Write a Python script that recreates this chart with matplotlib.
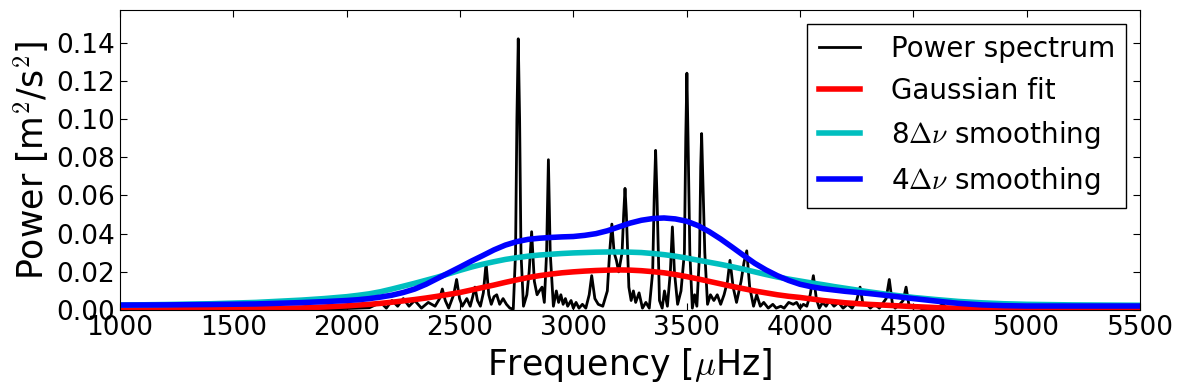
import matplotlib
matplotlib.use("Agg")
import matplotlib.pyplot as plt

# power spectrum
spec_freq = [1000, 1200, 1400, 1505, 1520, 1535, 1700, 1900, 2000, 2100,
             2150, 2175, 2200, 2225, 2250, 2275, 2300, 2330, 2360, 2390,
             2410, 2422, 2435, 2450, 2472, 2485, 2498, 2510, 2530, 2545,
             2556, 2566, 2577, 2590, 2603, 2615, 2627, 2638, 2650, 2662,
             2675, 2690, 2705, 2720, 2735, 2745, 2751, 2757, 2763, 2769,
             2780, 2795, 2805, 2816, 2828, 2840, 2850, 2862, 2872, 2882,
             2890, 2898, 2912, 2925, 2935, 2945, 2955, 2965, 2975, 2990,
             3000, 3012, 3025, 3040, 3055, 3070, 3081, 3095, 3110, 3130,
             3150, 3160, 3170, 3180, 3190, 3200, 3215, 3222, 3228, 3234,
             3245, 3255, 3265, 3275, 3290, 3305, 3320, 3335, 3350, 3357,
             3363, 3369, 3380, 3392, 3402, 3415, 3428, 3437, 3446, 3460,
             3475, 3490, 3496, 3501, 3506, 3514, 3525, 3535, 3545, 3557,
             3562, 3566, 3570, 3580, 3592, 3605, 3620, 3635, 3650, 3665,
             3680, 3691, 3705, 3720, 3740, 3753, 3765, 3778, 3795, 3809,
             3825, 3840, 3860, 3880, 3895, 3915, 3930, 3950, 3970, 3985,
             4000, 4015, 4030, 4045, 4059, 4072, 4085, 4100, 4115, 4130,
             4150, 4170, 4190, 4210, 4230, 4250, 4265, 4278, 4295, 4310,
             4330, 4350, 4380, 4394, 4408, 4420, 4440, 4455, 4468, 4480,
             4500, 4520, 4540, 4600, 4632, 4650, 4700, 4750, 4780, 5000,
             5500]
spec_power = [0.0002, 0.0003, 0.0002, 0.0003, 0.0040, 0.0003, 0.0004, 0.0006, 0.0008, 0.0012,
              0.0040, 0.0010, 0.0050, 0.0020, 0.0060, 0.0020, 0.0050, 0.0010, 0.0040, 0.0020,
              0.0060, 0.0110, 0.0050, 0.0010, 0.0080, 0.0160, 0.0060, 0.0020, 0.0060, 0.0020,
              0.0070, 0.0120, 0.0050, 0.0020, 0.0090, 0.0245, 0.0080, 0.0030, 0.0070, 0.0080,
              0.0030, 0.0060, 0.0030, 0.0010, 0.0005, 0.0300, 0.1000, 0.1420, 0.1000, 0.0300,
              0.0020, 0.0080, 0.0200, 0.0410, 0.0150, 0.0080, 0.0100, 0.0120, 0.0040, 0.0300,
              0.0787, 0.0300, 0.0020, 0.0100, 0.0040, 0.0080, 0.0030, 0.0060, 0.0020, 0.0050,
              0.0010, 0.0040, 0.0010, 0.0030, 0.0010, 0.0080, 0.0180, 0.0060, 0.0030, 0.0020,
              0.0100, 0.0300, 0.0450, 0.0300, 0.0260, 0.0200, 0.0300, 0.0500, 0.0637, 0.0500,
              0.0120, 0.0050, 0.0100, 0.0040, 0.0090, 0.0010, 0.0040, 0.0010, 0.0200, 0.0600,
              0.0836, 0.0600, 0.0050, 0.0010, 0.0100, 0.0020, 0.0200, 0.0435, 0.0200, 0.0030,
              0.0100, 0.0300, 0.0900, 0.1240, 0.0900, 0.0300, 0.0010, 0.0080, 0.0020, 0.0300,
              0.0750, 0.0924, 0.0750, 0.0300, 0.0030, 0.0080, 0.0050, 0.0080, 0.0030, 0.0080,
              0.0150, 0.0260, 0.0120, 0.0040, 0.0150, 0.0250, 0.0310, 0.0120, 0.0020, 0.0080,
              0.0020, 0.0040, 0.0010, 0.0030, 0.0010, 0.0020, 0.0010, 0.0040, 0.0030, 0.0040,
              0.0010, 0.0030, 0.0020, 0.0080, 0.0180, 0.0060, 0.0010, 0.0040, 0.0020, 0.0050,
              0.0020, 0.0040, 0.0010, 0.0030, 0.0010, 0.0050, 0.0120, 0.0030, 0.0030, 0.0010,
              0.0030, 0.0010, 0.0060, 0.0160, 0.0030, 0.0010, 0.0030, 0.0050, 0.0120, 0.0030,
              0.0010, 0.0020, 0.0005, 0.0010, 0.0030, 0.0005, 0.0010, 0.0020, 0.0005, 0.0003,
              0.0002]

# smooth curves: every 50 uHz in the hump, sparser in the flat wings
smooth_freq = [1000, 1200, 1400, 1600, 1800, 1900,
               2000, 2050, 2100, 2150, 2200, 2250, 2300, 2350, 2400, 2450,
               2500, 2550, 2600, 2650, 2700, 2750, 2800, 2850, 2900, 2950,
               3000, 3050, 3100, 3150, 3200, 3250, 3300, 3350, 3400, 3450,
               3500, 3550, 3600, 3650, 3700, 3750, 3800, 3850, 3900, 3950,
               4000, 4050, 4100, 4150, 4200,
               4300, 4400, 4500, 4600, 4700, 4800, 4900, 5000, 5200, 5500]
gauss_fit = [0.0003, 0.0004, 0.0005, 0.0007, 0.0011, 0.0016,
             0.0022, 0.0026, 0.0030, 0.0035, 0.0041, 0.0048, 0.0055, 0.0063, 0.0072, 0.0082,
             0.0092, 0.0105, 0.0118, 0.0131, 0.0145, 0.0158, 0.0170, 0.0180, 0.0188, 0.0195,
             0.0200, 0.0204, 0.0207, 0.0209, 0.0210, 0.0209, 0.0206, 0.0201, 0.0195, 0.0186,
             0.0175, 0.0163, 0.0150, 0.0137, 0.0124, 0.0112, 0.0100, 0.0090, 0.0080, 0.0072,
             0.0066, 0.0058, 0.0050, 0.0044, 0.0038,
             0.0030, 0.0024, 0.0018, 0.0013, 0.0009, 0.0006, 0.0005, 0.0004, 0.0003, 0.0003]
smooth_8dnu = [0.0026, 0.0029, 0.0033, 0.0040, 0.0052, 0.0060,
               0.0070, 0.0077, 0.0085, 0.0096, 0.0110, 0.0125, 0.0140, 0.0156, 0.0172, 0.0190,
               0.0208, 0.0225, 0.0240, 0.0253, 0.0265, 0.0274, 0.0282, 0.0288, 0.0292, 0.0296,
               0.0299, 0.0301, 0.0303, 0.0304, 0.0304, 0.0303, 0.0301, 0.0296, 0.0290, 0.0282,
               0.0272, 0.0261, 0.0250, 0.0239, 0.0227, 0.0214, 0.0200, 0.0186, 0.0173, 0.0162,
               0.0152, 0.0142, 0.0133, 0.0123, 0.0114,
               0.0096, 0.0080, 0.0066, 0.0055, 0.0045, 0.0038, 0.0033, 0.0030, 0.0027, 0.0025]
smooth_4dnu = [0.0026, 0.0027, 0.0029, 0.0032, 0.0039, 0.0044,
               0.0050, 0.0054, 0.0060, 0.0068, 0.0078, 0.0092, 0.0110, 0.0135, 0.0165, 0.0195,
               0.0225, 0.0256, 0.0285, 0.0315, 0.0340, 0.0358, 0.0370, 0.0376, 0.0380, 0.0383,
               0.0385, 0.0391, 0.0400, 0.0415, 0.0435, 0.0455, 0.0470, 0.0479, 0.0482, 0.0477,
               0.0465, 0.0442, 0.0410, 0.0372, 0.0330, 0.0287, 0.0245, 0.0210, 0.0180, 0.0155,
               0.0135, 0.0122, 0.0112, 0.0105, 0.0098,
               0.0087, 0.0074, 0.0060, 0.0047, 0.0035, 0.0027, 0.0023, 0.0021, 0.0021, 0.0021]

plt.rcParams['mathtext.fontset'] = 'cm'
plt.rcParams['xtick.direction'] = 'in'
plt.rcParams['ytick.direction'] = 'in'
plt.rcParams['xtick.top'] = True
plt.rcParams['ytick.right'] = True

fig = plt.figure(figsize=(11.8, 3.9), dpi=100)
ax = fig.add_axes([0.1017, 0.205, 0.8644, 0.769])

ax.plot(spec_freq, spec_power, color='k', lw=2, label='Power spectrum')
ax.plot(smooth_freq, gauss_fit, color='r', lw=4, label='Gaussian fit')
ax.plot(smooth_freq, smooth_8dnu, color='c', lw=4, label=r'8$\Delta\nu$ smoothing')
ax.plot(smooth_freq, smooth_4dnu, color='b', lw=4, label=r'4$\Delta\nu$ smoothing')

ax.set_xlim(1000, 5500)
ax.set_ylim(0, 0.157)
ax.set_yticks([0.0, 0.02, 0.04, 0.06, 0.08, 0.10, 0.12, 0.14])
ax.set_yticklabels(['0.00', '0.02', '0.04', '0.06', '0.08', '0.10', '0.12', '0.14'])
ax.tick_params(labelsize=19, length=5, width=0.8)
ax.set_xlabel(r'Frequency [$\mu$Hz]', fontsize=25)
ax.set_ylabel(r'Power [m$^2$/s$^2$]', fontsize=25)

leg = ax.legend(loc='upper right', fontsize=20, fancybox=False,
                handlelength=1.5, handletextpad=1.1, framealpha=1)
leg.get_frame().set_edgecolor('k')

fig.savefig('out.png', dpi=100)
